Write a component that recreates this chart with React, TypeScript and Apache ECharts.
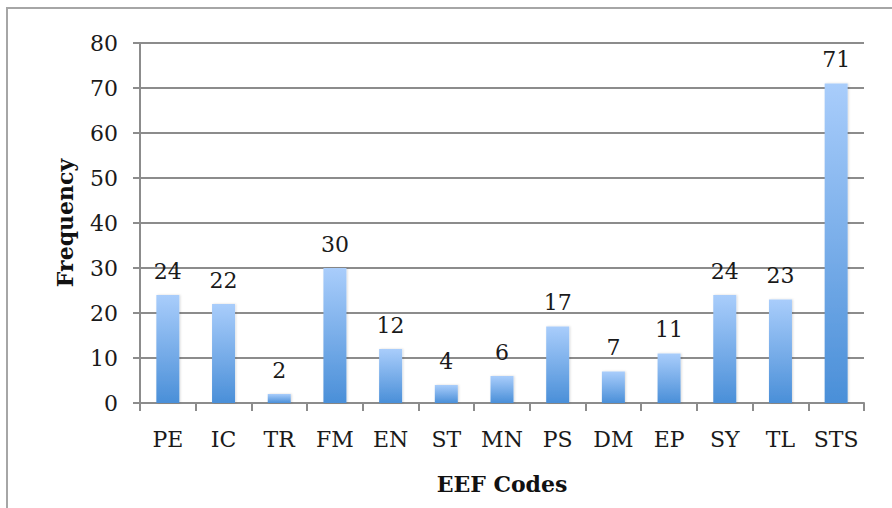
import React, { useEffect, useRef } from "react";
import * as echarts from "echarts";

const categories = ["PE", "IC", "TR", "FM", "EN", "ST", "MN", "PS", "DM", "EP", "SY", "TL", "STS"];
const frequencies = [24, 22, 2, 30, 12, 4, 6, 17, 7, 11, 24, 23, 71];
const yTicks = { min: 0, max: 80, interval: 10 };

const FONT = "'DejaVu Serif', 'Liberation Serif', serif";

export default function App() {
  const ref = useRef<HTMLDivElement>(null);
  useEffect(() => {
    if (!ref.current) return;
    const chart = echarts.init(ref.current, null, { renderer: "svg" });
    chart.setOption({
      animation: false,
      backgroundColor: "#ffffff",
      graphic: [
        {
          type: "rect",
          shape: { x: 7, y: 8, width: 1000, height: 1000 },
          style: { fill: "none", stroke: "#a6a6a6", lineWidth: 2 },
          silent: true,
        },
      ],
      grid: { left: 140, right: 28, top: 43, bottom: 105 },
      xAxis: {
        type: "category",
        data: categories,
        name: "EEF Codes",
        nameLocation: "middle",
        nameGap: 70,
        nameTextStyle: { fontFamily: FONT, fontWeight: "bold", fontSize: 22, color: "#111" },
        axisLine: { lineStyle: { color: "#8c8c8c", width: 2 } },
        axisTick: { show: true, length: 8, interval: 0, alignWithLabel: false, lineStyle: { color: "#8c8c8c", width: 2 } },
        axisLabel: { interval: 0, hideOverlap: false, fontFamily: FONT, fontSize: 22, color: "#1a1a1a", margin: 25 },
      },
      yAxis: {
        type: "value",
        min: yTicks.min,
        max: yTicks.max,
        interval: yTicks.interval,
        name: "Frequency",
        nameLocation: "middle",
        nameGap: 64,
        nameTextStyle: { fontFamily: FONT, fontWeight: "bold", fontSize: 22, color: "#111" },
        axisLine: { show: true, lineStyle: { color: "#8c8c8c", width: 2 } },
        axisTick: { show: true, length: 7, lineStyle: { color: "#8c8c8c", width: 2 } },
        axisLabel: { fontFamily: FONT, fontSize: 22, color: "#1a1a1a", margin: 22 },
        splitLine: { show: true, lineStyle: { color: "#8c8c8c", width: 2 } },
      },
      series: [
        {
          type: "bar",
          data: frequencies,
          barWidth: 23,
          itemStyle: {
            color: new echarts.graphic.LinearGradient(0, 0, 0, 1, [
              { offset: 0, color: "#a9cdfb" },
              { offset: 1, color: "#4a8fd8" },
            ]),
            shadowColor: "rgba(0,0,0,0.15)",
            shadowBlur: 2,
            shadowOffsetX: 1,
          },
          label: {
            show: true,
            position: "top",
            distance: 13,
            fontFamily: FONT,
            fontSize: 22,
            color: "#1a1a1a",
          },
        },
      ],
    });
    return () => chart.dispose();
  }, []);
  return <div ref={ref} style={{ width: 892, height: 508, position: "absolute", left: 0, top: 0 }} />;
}
